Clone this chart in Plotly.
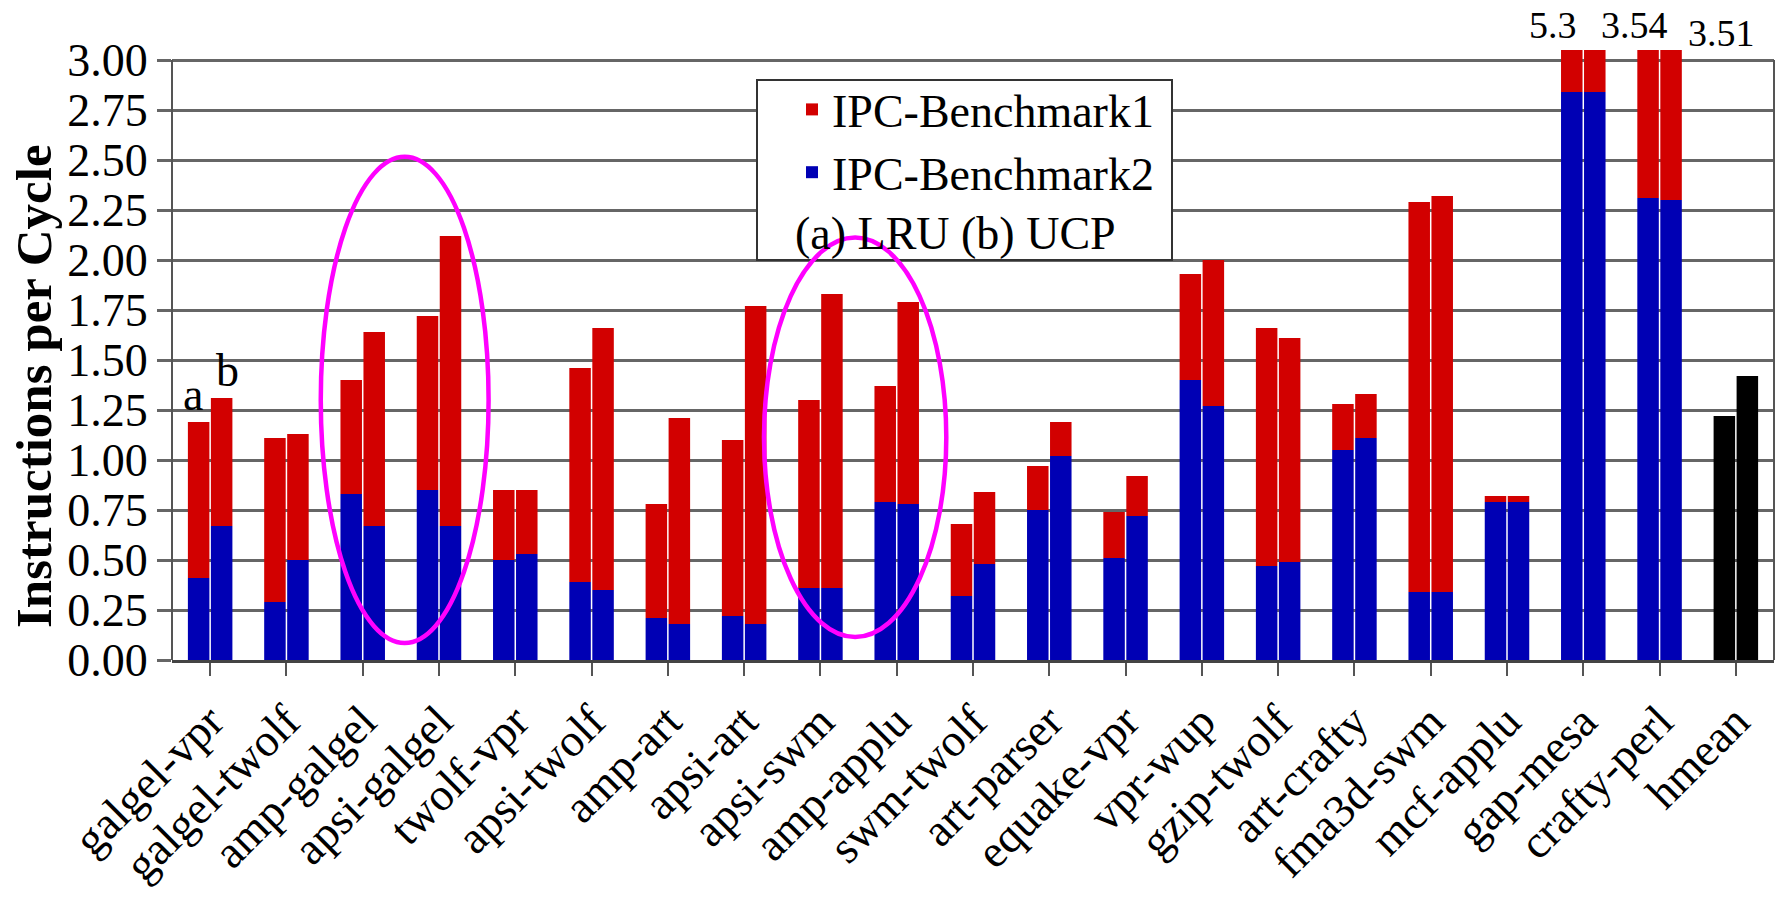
import plotly.graph_objects as go

categories = ["galgel-vpr", "galgel-twolf", "amp-galgel", "apsi-galgel", "twolf-vpr",
              "apsi-twolf", "amp-art", "apsi-art", "apsi-swm", "amp-applu",
              "swm-twolf", "art-parser", "equake-vpr", "vpr-wup", "gzip-twolf",
              "art-crafty", "fma3d-swm", "mcf-applu", "gap-mesa", "crafty-perl", "hmean"]

# (a) LRU: total IPC and IPC of Benchmark2 (bottom, blue)
lru_total = [1.19, 1.11, 1.40, 1.72, 0.85, 1.46, 0.78, 1.10, 1.30, 1.37,
             0.68, 0.97, 0.74, 1.93, 1.66, 1.28, 2.29, 0.82, 5.3, 3.54, None]
lru_bench2 = [0.41, 0.29, 0.83, 0.85, 0.50, 0.39, 0.21, 0.22, 0.36, 0.79,
              0.32, 0.75, 0.51, 1.40, 0.47, 1.05, 0.34, 0.79, 2.84, 2.31, None]
# (b) UCP
ucp_total = [1.31, 1.13, 1.64, 2.12, 0.85, 1.66, 1.21, 1.77, 1.83, 1.79,
             0.84, 1.19, 0.92, 2.00, 1.61, 1.33, 2.32, 0.82, 5.3, 3.51, None]
ucp_bench2 = [0.67, 0.50, 0.67, 0.67, 0.53, 0.35, 0.18, 0.18, 0.36, 0.78,
              0.48, 1.02, 0.72, 1.27, 0.49, 1.11, 0.34, 0.79, 2.84, 2.30, None]
# harmonic mean bars (black)
hmean_lru = [None] * 20 + [1.22]
hmean_ucp = [None] * 20 + [1.42]

y_ticks = [0.00, 0.25, 0.50, 0.75, 1.00, 1.25, 1.50, 1.75, 2.00, 2.25, 2.50, 2.75, 3.00]

RED = "#D20000"
BLUE = "#0000B4"
FONT = "Liberation Serif, Times New Roman, serif"


def diff(tot, b2):
    return [None if t is None else round(t - b, 4) for t, b in zip(tot, b2)]


lru_bench1 = diff(lru_total, lru_bench2)
ucp_bench1 = diff(ucp_total, ucp_bench2)

fig = go.Figure()
fig.add_trace(go.Bar(x=categories, y=lru_bench2, offsetgroup="a", marker_color=BLUE,
                     name="IPC-Benchmark2", legendgroup="b2", legendrank=2, showlegend=True,
                     marker_line_width=0))
fig.add_trace(go.Bar(x=categories, y=lru_bench1, base=lru_bench2, offsetgroup="a",
                     marker_color=RED, name="IPC-Benchmark1", legendgroup="b1", legendrank=1,
                     showlegend=True, marker_line_width=0))
fig.add_trace(go.Bar(x=categories, y=ucp_bench2, offsetgroup="b", marker_color=BLUE,
                     name="IPC-Benchmark2", legendgroup="b2", showlegend=False,
                     marker_line_width=0))
fig.add_trace(go.Bar(x=categories, y=ucp_bench1, base=ucp_bench2, offsetgroup="b",
                     marker_color=RED, name="IPC-Benchmark1", legendgroup="b1",
                     showlegend=False, marker_line_width=0))
fig.add_trace(go.Bar(x=categories, y=hmean_lru, offsetgroup="a", marker_color="black",
                     name="hmean (a)", showlegend=False, marker_line_width=0))
fig.add_trace(go.Bar(x=categories, y=hmean_ucp, offsetgroup="b", marker_color="black",
                     name="hmean (b)", showlegend=False, marker_line_width=0))

annotations = []
# a / b labels over first pair
annotations.append(dict(x=categories[0], y=lru_total[0], text="a", showarrow=False,
                        xref="x", yref="y", yanchor="bottom", xshift=-17,
                        font=dict(family=FONT, size=46, color="black")))
annotations.append(dict(x=categories[0], y=ucp_total[0], text="b", showarrow=False,
                        xref="x", yref="y", yanchor="bottom", xshift=17,
                        font=dict(family=FONT, size=46, color="black")))
# off-scale value labels
annotations.append(dict(x=categories[18], y=3.05, text=f"{lru_total[18]:g}", showarrow=False,
                        xref="x", yref="y", yanchor="bottom", xshift=-30, yshift=2,
                        font=dict(family=FONT, size=38, color="black")))
annotations.append(dict(x=categories[19], y=3.05, text=f"{lru_total[19]:g}", showarrow=False,
                        xref="x", yref="y", yanchor="bottom", xshift=-25, yshift=2,
                        font=dict(family=FONT, size=38, color="black")))
annotations.append(dict(x=categories[19], y=3.05, text=f"{ucp_total[19]:g}", showarrow=False,
                        xref="x", yref="y", yanchor="bottom", xshift=62, yshift=-6,
                        font=dict(family=FONT, size=38, color="black")))
# legend extra line
annotations.append(dict(x=(793 - 172) / 1602, y=(660 - 233) / 610, xref="paper", yref="paper",
                        text="(a) LRU (b) UCP", showarrow=False, xanchor="left", yanchor="middle",
                        font=dict(family=FONT, size=46, color="black")))
# y-axis title
annotations.append(dict(x=(34 - 172) / 1602, y=(660 - 386) / 610, xref="paper", yref="paper",
                        text="<b>Instructions per Cycle</b>", showarrow=False, textangle=-90,
                        xanchor="center", yanchor="middle",
                        font=dict(family=FONT, size=51, color="black")))

shapes = [
    # left / right frame lines
    dict(type="line", xref="paper", yref="y", x0=0, x1=0, y0=0, y1=3.0,
         line=dict(color="#555555", width=2), layer="above"),
    dict(type="line", xref="paper", yref="y", x0=1, x1=1, y0=0, y1=3.0,
         line=dict(color="#555555", width=2), layer="above"),
    # legend box
    dict(type="rect", xref="paper", yref="paper",
         x0=(757 - 172) / 1602, x1=(1172 - 172) / 1602,
         y0=(660 - 260) / 610, y1=(660 - 80) / 610,
         line=dict(color="#333333", width=2), fillcolor="white", layer="above"),
    # highlight ellipses
    dict(type="circle", xref="x", yref="y", x0=1.45, x1=3.65, y0=0.085, y1=2.516,
         line=dict(color="#FF00FF", width=4.5), layer="above"),
    dict(type="circle", xref="x", yref="y", x0=7.26, x1=9.65, y0=0.115, y1=2.112,
         line=dict(color="#FF00FF", width=4.5), layer="above"),
]

fig.update_layout(
    width=1775, height=900,
    margin=dict(l=172, r=1, t=50, b=240),
    paper_bgcolor="white", plot_bgcolor="white",
    barmode="group", bargap=0.397, bargroupgap=0.065,
    font=dict(family=FONT, size=46, color="black"),
    showlegend=True,
    legend=dict(x=(792 - 172) / 1602, y=(660 - 73) / 610, xanchor="left", yanchor="top",
                bgcolor="rgba(0,0,0,0)", borderwidth=0, traceorder="normal",
                font=dict(family=FONT, size=46, color="black"), itemwidth=30),
    annotations=annotations,
    shapes=shapes,
)
fig.update_xaxes(type="category", tickangle=-45, ticks="outside", ticklen=13,
                 tickwidth=2, tickcolor="#555555", showgrid=False,
                 showline=True, linecolor="#444444", linewidth=3,
                 tickfont=dict(family=FONT, size=46, color="black"))
fig.update_yaxes(range=[0, 3.05], tickvals=y_ticks, ticktext=[f"{v:.2f}" for v in y_ticks],
                 ticks="outside", ticklen=14, tickwidth=3, tickcolor="#666666",
                 showgrid=True, gridcolor="#666666", gridwidth=3, zeroline=False,
                 showline=False, tickfont=dict(family=FONT, size=46, color="black"))

fig.write_html("out.html")
